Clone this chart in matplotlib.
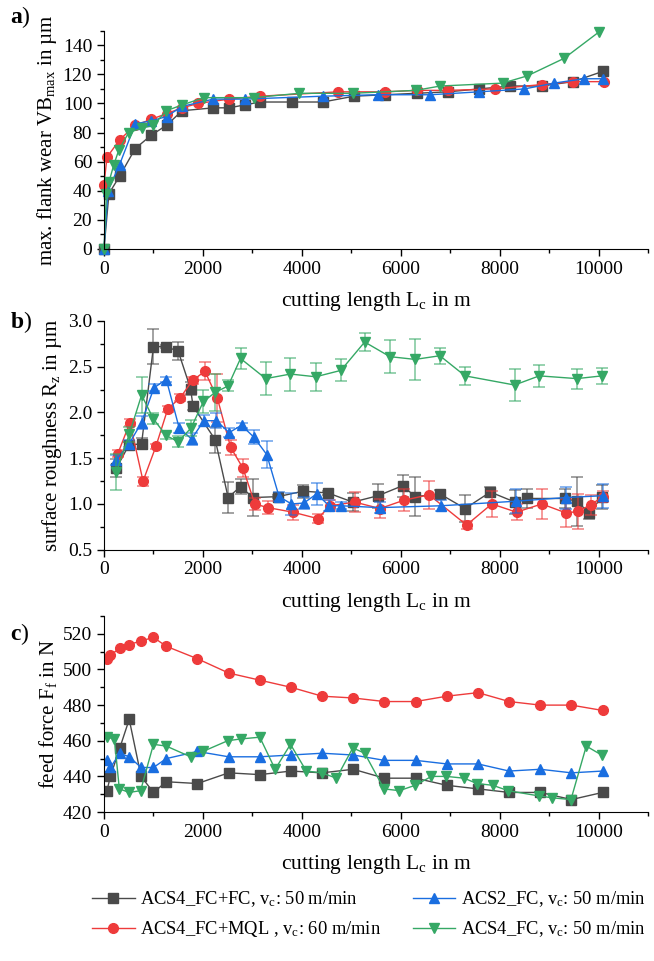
import matplotlib
matplotlib.use("Agg")
import matplotlib.pyplot as plt
from matplotlib.ticker import MultipleLocator

plt.rcParams["font.family"] = ["Liberation Serif", "DejaVu Serif"]
plt.rcParams["mathtext.fontset"] = "custom"
plt.rcParams["mathtext.rm"] = "Liberation Serif"
plt.rcParams["mathtext.it"] = "Liberation Serif:italic"
plt.rcParams["mathtext.bf"] = "Liberation Serif:bold"
plt.rcParams["font.size"] = 13

# -------------------------------------------------
# a) max. flank wear VBmax
# -------------------------------------------------
vb_fcfc_x = [0, 100, 316, 632, 948, 1264, 1580, 2212, 2528, 2844, 3160, 3792, 4424,
             5056, 5688, 6320, 6952, 7584, 8216, 8848, 9480, 10080]
vb_fcfc_y = [0, 38, 50, 69, 78, 85, 95, 97, 97, 99, 101, 101, 101,
             105, 106, 107, 108, 110, 112, 112, 115, 122]

vb_mql_x = [0, 60, 316, 632, 948, 1264, 1580, 1900, 2528, 3160, 4740, 5688, 6320,
            6952, 7900, 8848, 9480, 10100]
vb_mql_y = [44, 63, 75, 85, 89, 93, 97, 100, 103, 105, 108, 108, 109,
            109, 110, 113, 115, 115]

vb_acs2_x = [0, 80, 316, 632, 948, 1264, 1580, 2212, 2844, 4424, 5530, 6600, 7580,
             8500, 9100, 9700, 10080]
vb_acs2_y = [0, 40, 58, 86, 88, 91, 98, 103, 103, 105, 106, 106, 108,
             110, 114, 117, 117]

vb_fc_x = [0, 50, 100, 200, 300, 500, 760, 1000, 1260, 1580, 2020, 3030, 3950, 5030,
           6300, 6800, 8060, 8560, 9300, 10000]
vb_fc_y = [0, 38, 46, 58, 68, 80, 83, 85, 95, 99, 104, 104, 107, 107,
           109, 112, 114, 119, 131, 149]

# -------------------------------------------------
# b) surface roughness Rz (mean + error)
# -------------------------------------------------
rz_fcfc_x = [250, 500, 760, 1000, 1250, 1500, 1750, 1800, 2250, 2510, 2760, 3010, 3520,
             4030, 4530, 5030, 5540, 6040, 6290, 6790, 7300, 7810, 8310, 8560, 9310,
             9560, 9810, 10070]
rz_fcfc_y = [1.39, 1.64, 1.66, 2.72, 2.72, 2.67, 2.26, 2.07, 1.70, 1.07, 1.19, 1.07, 1.08,
             1.14, 1.12, 1.02, 1.09, 1.20, 1.08, 1.11, 0.95, 1.13, 1.02, 1.06, 1.06,
             1.03, 0.90, 1.08]
rz_fcfc_e = [0.10, 0.04, 0.06, 0.19, 0.02, 0.10, 0.07, 0.04, 0.14, 0.17, 0.08, 0.20, 0.02,
             0.07, 0.02, 0.10, 0.13, 0.12, 0.21, 0.04, 0.15, 0.05, 0.13, 0.10, 0.10,
             0.27, 0.06, 0.13]

rz_mql_x = [280, 525, 790, 1050, 1290, 1540, 1790, 2040, 2290, 2560, 2810, 3050, 3310,
            3820, 4320, 4570, 5070, 5580, 6060, 6570, 7330, 7840, 8340, 8850, 9350,
            9580, 9840, 10080]
rz_mql_y = [1.55, 1.89, 1.25, 1.63, 2.04, 2.16, 2.35, 2.45, 2.16, 1.62, 1.39, 1.00, 0.96,
            0.91, 0.84, 0.98, 1.02, 0.95, 1.04, 1.10, 0.77, 1.00, 0.91, 1.00, 0.90,
            0.92, 0.99, 1.08]
rz_mql_e = [0.04, 0.04, 0.05, 0.03, 0.03, 0.04, 0.04, 0.10, 0.26, 0.08, 0.10, 0.07, 0.07,
            0.08, 0.05, 0.06, 0.11, 0.10, 0.12, 0.15, 0.04, 0.14, 0.09, 0.16, 0.15,
            0.19, 0.11, 0.06]

rz_acs2_x = [250, 510, 760, 1010, 1260, 1520, 1770, 2020, 2270, 2530, 2780, 3030, 3290,
             3540, 3790, 4040, 4300, 4550, 4800, 5570, 6810, 8330, 9340, 10080]
rz_acs2_y = [1.48, 1.66, 1.89, 2.27, 2.36, 1.83, 1.71, 1.91, 1.91, 1.78, 1.86, 1.73, 1.54,
             1.08, 1.00, 1.01, 1.11, 0.98, 0.98, 0.96, 0.98, 1.03, 1.07, 1.09]
rz_acs2_e = [0.05, 0.04, 0.07, 0.04, 0.03, 0.05, 0.07, 0.06, 0.08, 0.05, 0.03, 0.08, 0.15,
             0.05, 0.12, 0.07, 0.12, 0.06, 0.04, 0.06, 0.06, 0.13, 0.12, 0.13]

rz_fc_x = [250, 510, 760, 1000, 1250, 1500, 1760, 2010, 2250, 2510, 2760, 3270, 3770,
           4280, 4790, 5270, 5780, 6290, 6790, 7300, 8300, 8800, 9560, 10070]
rz_fc_y = [1.35, 1.76, 2.19, 1.93, 1.75, 1.68, 1.83, 2.12, 2.22, 2.29, 2.59, 2.37, 2.42,
           2.39, 2.46, 2.77, 2.61, 2.58, 2.62, 2.40, 2.30, 2.40, 2.37, 2.40]
rz_fc_e = [0.20, 0.08, 0.20, 0.06, 0.04, 0.06, 0.09, 0.13, 0.20, 0.06, 0.12, 0.18, 0.18,
           0.15, 0.12, 0.10, 0.18, 0.22, 0.09, 0.10, 0.18, 0.12, 0.11, 0.09]

# -------------------------------------------------
# c) feed force Ff
# -------------------------------------------------
ff_x = [60, 130, 320, 510, 750, 1000, 1260, 1890, 2520, 3150, 3780, 4410, 5040, 5670,
        6300, 6930, 7560, 8190, 8820, 9450, 10080]
ff_fcfc = [432, 440, 456, 472, 440, 431, 437, 436, 442, 441, 443, 442, 444, 439,
           439, 435, 433, 431, 431, 427, 431]
ff_mql = [506, 508, 512, 514, 516, 518, 513, 506, 498, 494, 490, 485, 484, 482,
          482, 485, 487, 482, 480, 480, 477]
ff_acs2 = [449, 445, 453, 451, 445, 445, 450, 454, 451, 451, 452, 453, 452, 449,
           449, 447, 447, 443, 444, 442, 443]

ff_fc_x = [60, 210, 310, 510, 740, 1000, 1260, 1750, 2000, 2500, 2760, 3150, 3460, 3770,
           4090, 4400, 4700, 5030, 5270, 5660, 5970, 6290, 6620, 6920, 7280, 7540,
           7860, 8170, 8800, 9060, 9440, 9750, 10060]
ff_fc_y = [462, 461, 433, 431, 432, 458, 457, 451, 454, 460, 461, 462, 444, 458,
           443, 442, 439, 456, 453, 433, 432, 435, 440, 440, 439, 436,
           435, 432, 429, 428, 427, 457, 452]

labels = ["ACS4_FC+FC, v$_{\\rm c}$: 50 m/min",
          "ACS4_FC+MQL , v$_{\\rm c}$: 60 m/min",
          "ACS2_FC, v$_{\\rm c}$: 50 m/min",
          "ACS4_FC, v$_{\\rm c}$: 50 m/min"]
colors = ["#4a4a4a", "#ee3b3b", "#1a6ee0", "#35a865"]
markers = ["s", "o", "^", "v"]

fig = plt.figure(figsize=(6.54, 9.61), dpi=100)
ax_a = fig.add_axes([0.159, 0.741, 0.832, 0.227])
ax_b = fig.add_axes([0.159, 0.428, 0.832, 0.238])
ax_c = fig.add_axes([0.159, 0.155, 0.832, 0.204])

# a)
vb_data = [(vb_fcfc_x, vb_fcfc_y), (vb_mql_x, vb_mql_y),
           (vb_acs2_x, vb_acs2_y), (vb_fc_x, vb_fc_y)]
for (x, y), c, m in zip(vb_data, colors, markers):
    ax_a.plot(x, y, color=c, marker=m, ms=7, lw=1, clip_on=False)

# b)
rz_data = [(rz_fcfc_x, rz_fcfc_y, rz_fcfc_e), (rz_mql_x, rz_mql_y, rz_mql_e),
           (rz_acs2_x, rz_acs2_y, rz_acs2_e), (rz_fc_x, rz_fc_y, rz_fc_e)]
for (x, y, e), c, m in zip(rz_data, colors, markers):
    ax_b.errorbar(x, y, yerr=e, fmt="none", ecolor=c, alpha=0.6, elinewidth=1.2,
                  capsize=4.5, capthick=1.2)
    ax_b.plot(x, y, color=c, marker=m, ms=7, lw=1)

# c)
ff_data = [(ff_x, ff_fcfc), (ff_x, ff_mql), (ff_x, ff_acs2), (ff_fc_x, ff_fc_y)]
handles = []
for (x, y), c, m, lab in zip(ff_data, colors, markers, labels):
    h, = ax_c.plot(x, y, color=c, marker=m, ms=7, lw=1, label=lab)
    handles.append(h)

xlabel = "cutting length L$_{\\rm c}$ in m"
for ax in (ax_a, ax_b, ax_c):
    ax.set_xlim(0, 11000)
    ax.xaxis.set_major_locator(MultipleLocator(2000))
    ax.xaxis.set_minor_locator(MultipleLocator(1000))
    ax.spines["top"].set_visible(False)
    ax.spines["right"].set_visible(False)
    ax.tick_params(which="major", direction="out", length=5, width=1, labelsize=14)
    ax.tick_params(which="minor", direction="out", length=3, width=1)
    ax.set_xlabel(xlabel, fontsize=15.5, labelpad=9)

ax_a.set_ylim(0, 150)
ax_a.yaxis.set_major_locator(MultipleLocator(20))
ax_a.yaxis.set_minor_locator(MultipleLocator(10))
ax_a.set_ylabel("max. flank wear VB$_{\\rm max}$ in µm", fontsize=15, labelpad=3)

ax_b.set_ylim(0.5, 3.0)
ax_b.yaxis.set_major_locator(MultipleLocator(0.5))
ax_b.yaxis.set_minor_locator(MultipleLocator(0.25))
ax_b.yaxis.set_major_formatter(plt.FormatStrFormatter("%.1f"))
ax_b.set_ylabel("surface roughness R$_{\\rm z}$ in µm", fontsize=15, labelpad=3)

ax_c.set_ylim(420, 530)
ax_c.yaxis.set_major_locator(MultipleLocator(20))
ax_c.yaxis.set_minor_locator(MultipleLocator(10))
ax_c.set_ylabel("feed force F$_{\\rm f}$ in N", fontsize=15, labelpad=3)

fig.text(0.015, 0.982, "$\\mathbf{a}$)", fontsize=17, va="center")
fig.text(0.015, 0.665, "$\\mathbf{b}$)", fontsize=17, va="center")
fig.text(0.015, 0.340, "$\\mathbf{c}$)", fontsize=17, va="center")

fig.legend(handles=handles, loc="lower center", bbox_to_anchor=(0.564, 0.009), ncol=2,
           frameon=False, fontsize=13.3, handlelength=2.3, handletextpad=0.3,
           columnspacing=1.7, borderaxespad=0.3, labelspacing=0.55)

fig.savefig("out.png", dpi=100)
